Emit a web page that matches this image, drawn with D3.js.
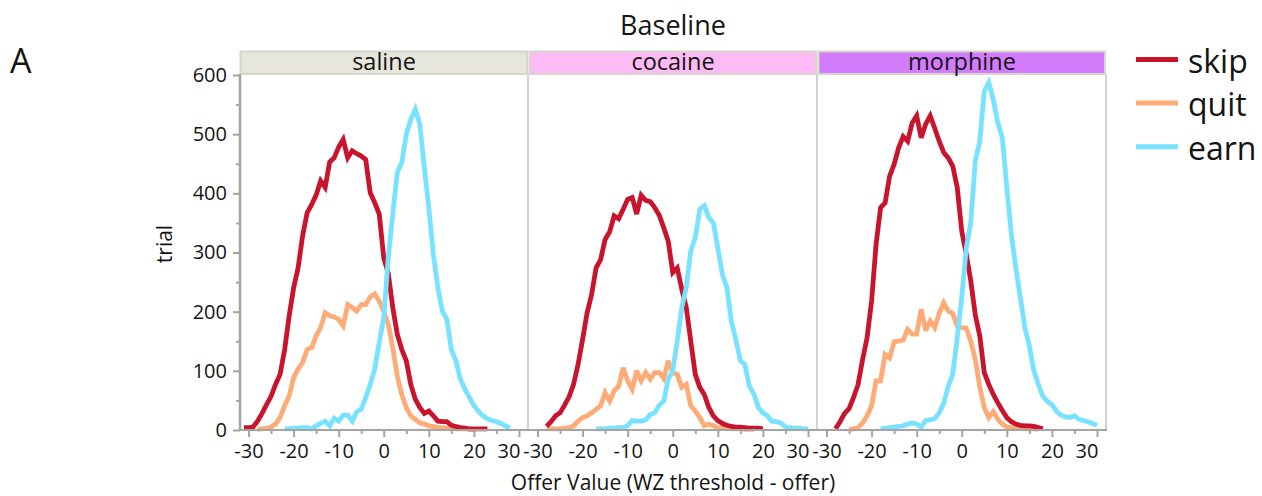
<!DOCTYPE html>
<html>
<head>
<meta charset="utf-8">
<script src="https://cdn.jsdelivr.net/npm/d3@7"></script>
<style>
  html, body { margin: 0; padding: 0; background: #fff; }
  svg { display: block; font-family: "Open Sans", "Noto Sans", sans-serif; }
</style>
</head>
<body>
<script>
// Trial counts by offer value, split by outcome, for each drug condition.
const drugs = ["saline", "cocaine", "morphine"];
const outcomes = ["skip", "quit", "earn"];
const xTicks = [-30, -20, -10, 0, 10, 20, 30];
const xMinorTicks = [-25, -15, -5, 5, 15, 25];
const yTicks = [0, 100, 200, 300, 400, 500, 600];
const yMinorTicks = [50, 150, 250, 350, 450, 550];

// Each series: first offer value, then one trial count per integer offer value.
const salineSkip = { from: -31, trials: [4,4,5,15,28, 43,57,77,94,135, 192,240,274,328,367, 381,397,421,410,453, 460,478,491,460,472, 467,463,457,401,384, 365,291,265,207,162, 136,117,77,52,38, 28,32,24,15,14, 14,8,6,4,3, 2,2,2,2,2] };
const salineQuit = { from: -28, trials: [1,2,3,5,10, 21,41,57,88,103, 114,136,139,159,173, 198,193,191,187,176, 212,207,201,212,212, 225,230,218,200,179, 139,91,60,38,24, 18,12,10,7,6, 4,4,3,3,2, 2,2,1,1] };
const salineEarn = { from: -22, trials: [2,2,3,3,4, 4,2,7,11,15, 7,20,15,25,25, 15,31,35,55,77, 103,148,190,291,365, 435,452,500,525,542, 517,443,376,297,241, 201,187,136,117,86, 69,55,41,32,24, 19,16,14,11,7, 3] };

const cocaineSkip = { from: -28, trials: [6,14,24,29,42, 56,77,111,153,198, 229,274,288,322,335, 362,357,373,390,393, 365,397,388,386,376, 363,342,319,266,274, 238,207,150,94,72, 60,38,24,16,11, 8,6,5,5,4, 3,3,3,2] };
const cocaineQuit = { from: -28, trials: [2,2,2,2,3, 4,7,15,21,24, 29,35,41,63,49, 66,74,105,83,69, 100,83,97,86,97, 97,87,117,97,94, 72,77,41,32,21, 7,10,7,4,3, 3,2,2,2,1, 1,1] };
const cocaineEarn = { from: -17, trials: [2,2,2,3,3, 4,4,7,16,15, 15,17,26,29,42, 49,86,100,150,207, 241,303,325,373,379, 359,350,308,263,241, 184,153,117,111,74, 61,38,29,24,15, 14,12,5,4,3, 3,2,2] };

const morphineSkip = { from: -28, trials: [2,14,28,36,55, 77,119,156,218,314, 376,384,429,449,477, 496,488,519,531,494, 517,531,510,488,469, 460,446,410,336,297, 252,195,159,97,77, 60,46,33,21,14, 10,8,7,7,6, 4,2] };
const morphineQuit = { from: -25, trials: [1,2,4,12,24, 41,83,83,128,122, 149,150,152,170,162, 162,204,168,184,173, 197,215,201,197,176, 173,172,150,119,72, 38,21,31,18,10, 5,4,3,3,2, 2,2,1] };
const morphineEarn = { from: -18, trials: [2,3,4,5,6, 7,10,12,10,5, 16,17,19,29,45, 74,94,156,224,308, 350,455,488,573,587, 558,519,494,410,331, 274,224,173,142,100, 77,57,48,43,32, 25,22,21,24,18, 16,14,11,8] };

const seriesByDrug = {
  saline:   { skip: salineSkip,   quit: salineQuit,   earn: salineEarn },
  cocaine:  { skip: cocaineSkip,  quit: cocaineQuit,  earn: cocaineEarn },
  morphine: { skip: morphineSkip, quit: morphineQuit, earn: morphineEarn }
};

const outcomeColor = { skip: "#c8142d", quit: "#ffab78", earn: "#79e2ff" };
const stripColor = { saline: "#e6e6dc", cocaine: "#fdbaf5", morphine: "#d27cfc" };
const drawOrder = ["quit", "skip", "earn"];

const W = 1262, H = 496;
const axisGray = "#a4a4a4";
const frameGray = "#d2d2d2";
const textColor = "#141414";
const plainNumber = d => String(d);   // hyphen-minus, as printed on the axes

const svg = d3.select("body").append("svg").attr("width", W).attr("height", H);

const plotTop = 75, plotBottom = 430;
const firstLeft = 240, panelStep = 289, panelWidth = 288;

const y = d3.scaleLinear().domain([0, 600]).range([plotBottom, plotTop]);

// Overall title and panel letter
svg.append("text").attr("x", 673).attr("y", 35).attr("text-anchor", "middle")
  .attr("font-size", 27).attr("fill", textColor).text("Baseline");
svg.append("text").attr("x", 10).attr("y", 73)
  .attr("font-size", 34).attr("fill", textColor).text("A");

drugs.forEach((drug, i) => {
  const left = firstLeft + panelStep * i;
  const x = d3.scaleLinear().domain([-32, 32]).range([left - 0.5, left + panelWidth]);
  const g = svg.append("g");

  // Facet strip
  g.append("rect").attr("x", left + 0.5).attr("y", 51.5).attr("width", panelWidth - 1.5).attr("height", 22.5)
    .attr("fill", stripColor[drug]).attr("stroke", "#d6d6cb").attr("stroke-width", 2);
  g.append("text").attr("x", left + panelWidth / 2).attr("y", 70).attr("text-anchor", "middle")
    .attr("font-size", 23.5).attr("fill", textColor).text(drug);

  // Right frame of the panel
  g.append("line").attr("x1", left + panelWidth).attr("x2", left + panelWidth)
    .attr("y1", plotTop - 1).attr("y2", plotBottom)
    .attr("stroke", frameGray).attr("stroke-width", 2);

  // Minor x ticks
  g.append("g").attr("transform", `translate(0,${plotBottom})`)
    .call(d3.axisBottom(x).tickValues(xMinorTicks).tickSize(4).tickFormat(""))
    .call(a => a.select(".domain").remove())
    .call(a => a.selectAll("line").attr("stroke", axisGray).attr("stroke-width", 2));

  // Major x ticks with labels
  g.append("g").attr("transform", `translate(0,${plotBottom})`)
    .call(d3.axisBottom(x).tickValues(xTicks).tickSize(7).tickPadding(7).tickFormat(plainNumber))
    .call(a => a.select(".domain").remove())
    .call(a => a.selectAll("line").attr("stroke", axisGray).attr("stroke-width", 2))
    .call(a => a.selectAll("text").attr("font-size", 20).attr("fill", textColor)
      .attr("font-family", "'Open Sans', 'Noto Sans', sans-serif"))
    .call(a => a.selectAll(".tick").filter(d => d === 30).select("text")
      .attr("text-anchor", "end").attr("x", 1));

  // Outcome lines
  const line = d3.line()
    .x(d => x(d.offer))
    .y(d => y(d.trials));

  drawOrder.forEach(outcome => {
    const s = seriesByDrug[drug][outcome];
    const pts = s.trials.map((t, k) => ({ offer: s.from + k, trials: t }));
    g.append("path").datum(pts)
      .attr("d", line)
      .attr("fill", "none")
      .attr("stroke", outcomeColor[outcome])
      .attr("stroke-width", 4.8)
      .attr("stroke-linejoin", "miter")
      .attr("stroke-miterlimit", 3);
  });
});

// Bottom axis line across the panels
svg.append("line").attr("x1", firstLeft - 1).attr("x2", firstLeft + panelStep * 2 + panelWidth + 1)
  .attr("y1", plotBottom).attr("y2", plotBottom)
  .attr("stroke", axisGray).attr("stroke-width", 2);

// Y axis
svg.append("g").attr("transform", `translate(${firstLeft},0)`)
  .call(d3.axisLeft(y).tickValues(yMinorTicks).tickSize(4).tickFormat(""))
  .call(a => a.select(".domain").remove())
  .call(a => a.selectAll("line").attr("stroke", axisGray).attr("stroke-width", 2));
svg.append("g").attr("transform", `translate(${firstLeft},0)`)
  .call(d3.axisLeft(y).tickValues(yTicks).tickSize(7).tickPadding(6).tickFormat(plainNumber))
  .call(a => a.select(".domain").remove())
  .call(a => a.selectAll("line").attr("stroke", axisGray).attr("stroke-width", 2))
  .call(a => a.selectAll("text").attr("font-size", 20).attr("fill", textColor)
    .attr("font-family", "'Open Sans', 'Noto Sans', sans-serif"));
svg.append("line").attr("x1", firstLeft).attr("x2", firstLeft)
  .attr("y1", plotTop - 1).attr("y2", plotBottom + 1)
  .attr("stroke", axisGray).attr("stroke-width", 2.5);

// Axis titles
svg.append("text").attr("transform", "translate(172,244) rotate(-90)")
  .attr("text-anchor", "middle").attr("font-size", 21).attr("fill", textColor).text("trial");
svg.append("text").attr("x", 673).attr("y", 490).attr("text-anchor", "middle")
  .attr("font-size", 21).attr("fill", textColor).text("Offer Value (WZ threshold - offer)");

// Legend
const legend = svg.append("g");
outcomes.forEach((o, i) => {
  const ly = 59.5 + 43.6 * i;
  legend.append("line").attr("x1", 1136).attr("x2", 1178).attr("y1", ly).attr("y2", ly)
    .attr("stroke", outcomeColor[o]).attr("stroke-width", 5);
  legend.append("text").attr("x", 1188).attr("y", ly + 13)
    .attr("font-size", 32).attr("fill", textColor).text(o);
});
</script>
</body>
</html>
